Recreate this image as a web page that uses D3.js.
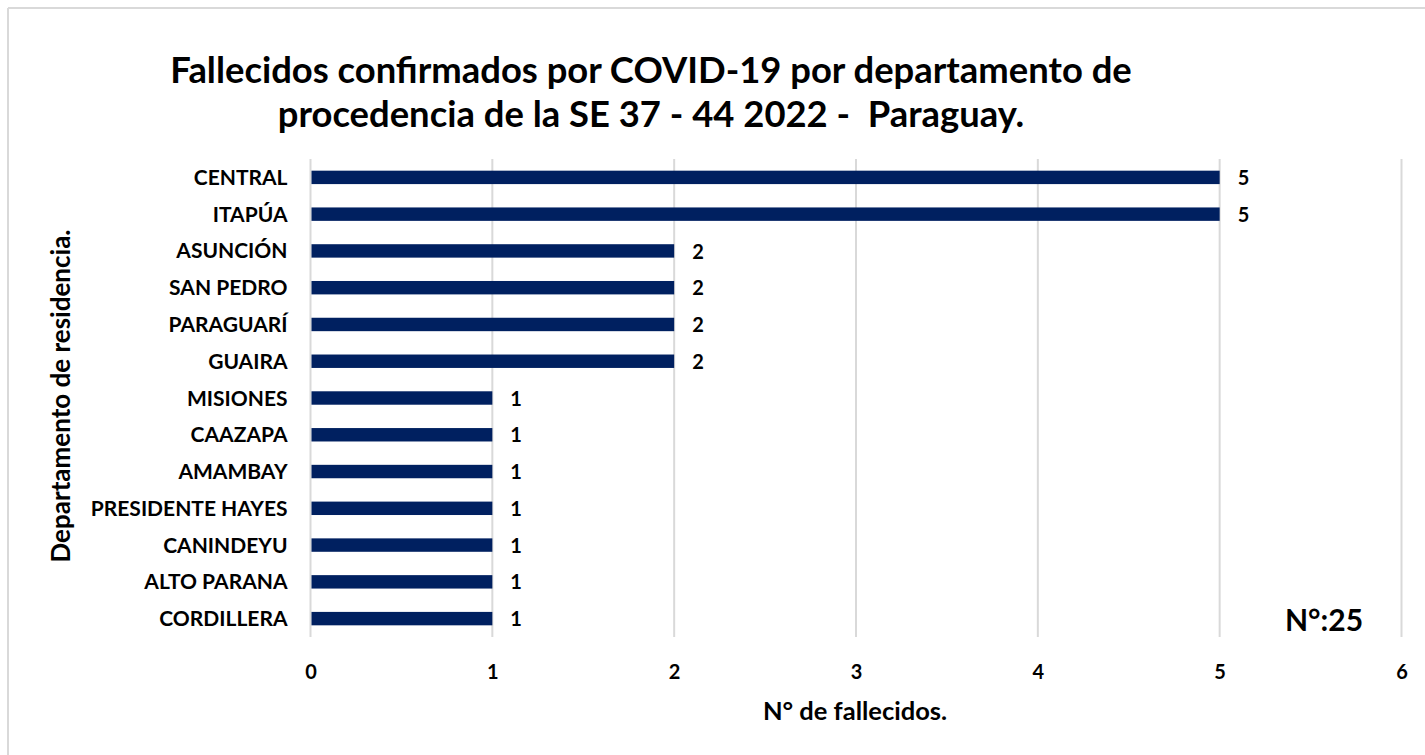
<!DOCTYPE html>
<html>
<head>
<meta charset="utf-8">
<script src="https://cdn.jsdelivr.net/npm/d3@7"></script>
<style>
  html, body { margin: 0; padding: 0; background: #ffffff; }
  svg { display: block; font-family: Lato, "Noto Sans", sans-serif; font-weight: 700; }
  text { white-space: pre; }
</style>
</head>
<body>
<svg id="chart" width="1425" height="755"></svg>
<script>
// Deaths by department of residence, epidemiological weeks 37-44, 2022
const departments = [
  "CENTRAL", "ITAPÚA", "ASUNCIÓN", "SAN PEDRO", "PARAGUARÍ", "GUAIRA",
  "MISIONES", "CAAZAPA", "AMAMBAY", "PRESIDENTE HAYES", "CANINDEYU",
  "ALTO PARANA", "CORDILLERA"
];
const deaths = [5, 5, 2, 2, 2, 2, 1, 1, 1, 1, 1, 1, 1];
const xTicks = [0, 1, 2, 3, 4, 5, 6];
const titleLines = [
  "Fallecidos confirmados por COVID-19 por departamento de",
  "procedencia de la SE 37 - 44 2022 -  Paraguay."
];
const totalLabel = "N°:25";

const svg = d3.select("#chart");
const W = 1425, H = 755;
const plot = { left: 310.5, right: 1401.5, top: 159, bottom: 637 };
const navy = "#002060";
const grid = "#d9d9d9";

// frame of the chart area (top and left edges visible)
svg.append("line").attr("x1", 8).attr("x2", W).attr("y1", 8).attr("y2", 8)
  .attr("stroke", grid).attr("stroke-width", 2);
svg.append("line").attr("x1", 8).attr("x2", 8).attr("y1", 8).attr("y2", H)
  .attr("stroke", grid).attr("stroke-width", 2);

const x = d3.scaleLinear().domain([0, 6]).range([plot.left, plot.right]);
const y = d3.scaleBand().domain(departments).range([plot.top, plot.bottom]).paddingInner(0.635).paddingOuter(0.3175);

// vertical gridlines
svg.append("g").selectAll("line").data(xTicks).join("line")
  .attr("x1", d => x(d)).attr("x2", d => x(d))
  .attr("y1", plot.top).attr("y2", plot.bottom)
  .attr("stroke", grid).attr("stroke-width", 2);

// bars
const data = departments.map((d, i) => ({ name: d, value: deaths[i] }));
svg.append("g").selectAll("rect").data(data).join("rect")
  .attr("x", x(0) + 1)
  .attr("y", d => y(d.name))
  .attr("width", d => x(d.value) - x(0) - 1)
  .attr("height", y.bandwidth())
  .attr("fill", navy);

// value labels
svg.append("g").selectAll("text").data(data).join("text")
  .attr("x", d => x(d.value) + 18)
  .attr("y", d => y(d.name) + y.bandwidth() / 2)
  .attr("dy", "0.38em")
  .attr("font-size", 20)
  .attr("fill", "#000")
  .text(d => d.value);

// category axis labels
const yAxis = svg.append("g")
  .attr("transform", `translate(${plot.left - 23},0)`)
  .call(d3.axisLeft(y).tickSize(0).tickPadding(0));
yAxis.select(".domain").remove();
yAxis.selectAll("text")
  .attr("font-family", "Lato, 'Noto Sans', sans-serif")
  .attr("font-weight", 700)
  .attr("font-size", 21)
  .attr("fill", "#000")
  .attr("dy", "0.36em");

// value axis labels
const xAxis = svg.append("g")
  .attr("transform", `translate(0,${plot.bottom})`)
  .call(d3.axisBottom(x).tickValues(xTicks).tickFormat(d3.format("d")).tickSize(0).tickPadding(0));
xAxis.select(".domain").remove();
xAxis.selectAll("text")
  .attr("font-family", "Lato, 'Noto Sans', sans-serif")
  .attr("font-weight", 700)
  .attr("font-size", 20)
  .attr("fill", "#000")
  .attr("y", 42)
  .attr("dy", 0);

// title
svg.append("g").selectAll("text").data(titleLines).join("text")
  .attr("x", 651)
  .attr("y", (d, i) => 83 + i * 44)
  .attr("text-anchor", "middle")
  .attr("font-size", 36.4)
  .attr("fill", "#000")
  .text(d => d);

// axis titles
svg.append("text")
  .attr("x", 855).attr("y", 720)
  .attr("text-anchor", "middle")
  .attr("font-size", 25.5)
  .attr("fill", "#000")
  .text("N° de fallecidos.");

svg.append("text")
  .attr("transform", "translate(70,396) rotate(-90)")
  .attr("text-anchor", "middle")
  .attr("font-size", 26)
  .attr("fill", "#000")
  .text("Departamento de residencia.");

// total count
svg.append("text")
  .attr("x", 1285).attr("y", 631)
  .attr("font-size", 30)
  .attr("fill", "#000")
  .text(totalLabel);
</script>
</body>
</html>
